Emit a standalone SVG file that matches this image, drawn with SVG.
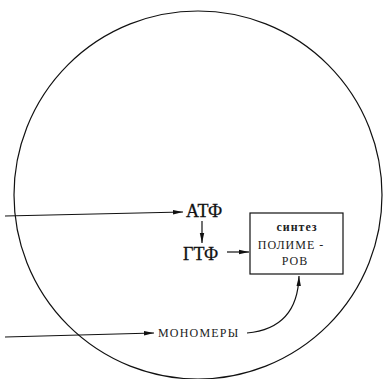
<svg xmlns="http://www.w3.org/2000/svg" width="387" height="379" viewBox="0 0 387 379">
<defs>
<marker id="ah" viewBox="0 0 10 6" refX="10" refY="3" markerWidth="10" markerHeight="6" markerUnits="userSpaceOnUse" orient="auto">
<path d="M0,0.8 L10,3 L0,5.2 z" fill="#111"/>
</marker>
</defs>
<style>
.ln{fill:none;stroke:#111;stroke-width:1.2}
.big{font-family:"Liberation Serif","DejaVu Serif",serif;font-size:18px;fill:#111;stroke:#111;stroke-width:0.3}
.sm{font-family:"Liberation Serif","DejaVu Serif",serif;font-size:12px;fill:#222;letter-spacing:1.2px}
.bx{font-family:"Liberation Serif","DejaVu Serif",serif;font-size:12px;fill:#222;letter-spacing:1px}
</style>
<rect width="387" height="379" fill="#fff"/>
<g id="cell"><circle cx="198" cy="195" r="184" class="ln" stroke-width="1.5"/></g>
<g id="atf"><text class="big" x="186" y="217">АТФ</text></g>
<g id="gtf"><text class="big" x="183" y="260">ГТФ</text></g>
<g id="synth">
<rect x="250" y="213" width="93" height="61" class="ln" stroke-width="1.5"/>
<text class="bx" x="297" y="231" text-anchor="middle" font-weight="bold" letter-spacing="2">синтез</text>
<text class="bx" x="291" y="249" text-anchor="middle">ПОЛИМЕ -</text>
<text class="bx" x="295" y="265" text-anchor="middle">РОВ</text>
</g>
<g id="mono"><text class="sm" x="158" y="337">МОНОМЕРЫ</text></g>
<g id="connectors">
<path class="ln" d="M5,216 L183,212" marker-end="url(#ah)"/>
<path class="ln" d="M202,221 L202,243" marker-end="url(#ah)"/>
<path class="ln" d="M227,252 L249,252" marker-end="url(#ah)"/>
<path class="ln" d="M5,337 L154,333" marker-end="url(#ah)"/>
<path class="ln" d="M247,333 C280,330 298,312 299,276" marker-end="url(#ah)"/>
</g>
</svg>
